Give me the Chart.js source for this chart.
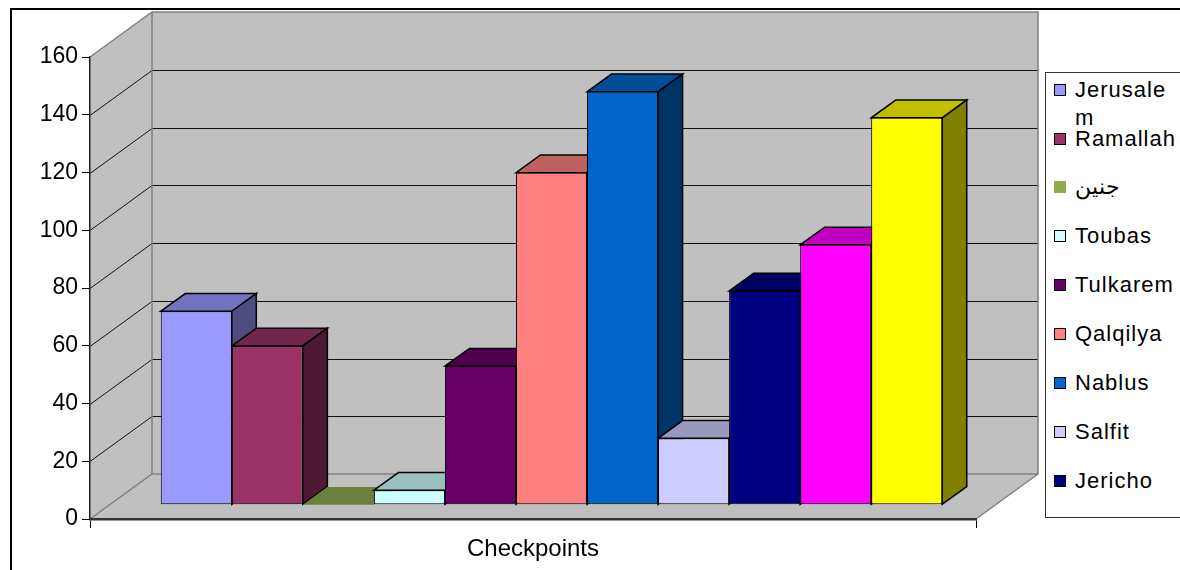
<!DOCTYPE html>
<html>
<head>
<meta charset="utf-8">
<script src="https://cdn.jsdelivr.net/npm/chart.js@4.4.0/dist/chart.umd.min.js"></script>
<style>
  html, body { margin: 0; padding: 0; background: #fff; overflow: hidden; }
  #wrap { position: relative; width: 1180px; height: 570px; overflow: hidden; }
  #frame { position: absolute; left: 10px; top: 8px; width: 1300px; height: 700px; border-top: 2px solid #000; border-left: 2px solid #000; }
  #chart { position: absolute; left: 0; top: 0; }
  #legend { position: absolute; left: 1045px; top: 72px; width: 220px; height: 444px; border: 1px solid #333; background: #fff; overflow: hidden;
            font-family: "Liberation Sans", Arial, sans-serif; font-size: 22px; color: #000; }
  .sw { position: absolute; left: 8px; width: 10px; height: 10px; border: 1px solid #000; }
  .txt { position: absolute; left: 29px; width: 104px; line-height: 28px; word-break: break-all; letter-spacing: 1px; white-space: normal; }
</style>
</head>
<body>
<div id="wrap">
  <div id="frame"></div>
  <canvas id="chart" width="1180" height="570"></canvas>
  <div id="legend"></div>
</div>
<script>
const categories = ["Checkpoints"];
const cities = ["Jerusalem", "Ramallah", "جنين", "Toubas", "Tulkarem", "Qalqilya", "Nablus", "Salfit", "Jericho", "Bethlehem", "Hebron"];
const checkpoints = [67, 55, 0, 5, 48, 115, 143, 23, 74, 90, 134];
const cityColors = ["#9999FF", "#993366", "#8FAB4F", "#CCFFFF", "#660066", "#FF8080", "#0066CC", "#CCCCFF", "#000080", "#FF00FF", "#FFFF00"];
const noOutline = ["جنين"];
const Y_MIN = 0, Y_MAX = 160, Y_STEP = 20;
const yTicks = [0, 20, 40, 60, 80, 100, 120, 140, 160];

// perspective: walls recede up-right, bars sit part way into the floor
const WALL_DX = 62, WALL_DY = 45;
const BAR_SHIFT_X = 18.5, BAR_SHIFT_Y = 14.3;
const BAR_DX = 24.5, BAR_DY = 17.7;

function shade(hex, f) {
  const n = parseInt(hex.slice(1), 16);
  const r = Math.round(((n >> 16) & 255) * f);
  const g = Math.round(((n >> 8) & 255) * f);
  const b = Math.round((n & 255) * f);
  return `rgb(${r},${g},${b})`;
}

function face(ctx, pts, fill, lw) {
  ctx.beginPath();
  pts.forEach(([x, y], i) => (i ? ctx.lineTo(x, y) : ctx.moveTo(x, y)));
  ctx.closePath();
  ctx.fillStyle = fill;
  ctx.fill();
  if (lw) {
    ctx.lineWidth = lw;
    ctx.strokeStyle = "#000";
    ctx.stroke();
  }
}

const box3d = {
  id: "box3d",
  beforeDraw(chart) {
    const { ctx, chartArea: a, scales: { y } } = chart;
    const top = y.getPixelForValue(Y_MAX), bot = y.getPixelForValue(Y_MIN);
    ctx.save();
    ctx.fillStyle = "#c0c0c0";
    // side wall
    ctx.beginPath();
    ctx.moveTo(a.left, top); ctx.lineTo(a.left + WALL_DX, top - WALL_DY);
    ctx.lineTo(a.left + WALL_DX, bot - WALL_DY); ctx.lineTo(a.left, bot);
    ctx.closePath(); ctx.fill();
    // back wall
    ctx.fillRect(a.left + WALL_DX, top - WALL_DY, a.right - a.left, bot - top);
    // floor
    ctx.beginPath();
    ctx.moveTo(a.left, bot); ctx.lineTo(a.left + WALL_DX, bot - WALL_DY);
    ctx.lineTo(a.right + WALL_DX, bot - WALL_DY); ctx.lineTo(a.right, bot);
    ctx.closePath(); ctx.fill();

    // gridlines run along the side wall and across the back wall
    ctx.strokeStyle = "#111";
    ctx.lineWidth = 1;
    yTicks.filter((v) => v > Y_MIN && v < Y_MAX).forEach((v) => {
      const py = Math.round(y.getPixelForValue(v)) + 0.5;
      ctx.beginPath();
      ctx.moveTo(a.left, py);
      ctx.lineTo(a.left + WALL_DX, py - WALL_DY);
      ctx.lineTo(a.right + WALL_DX, py - WALL_DY);
      ctx.stroke();
    });

    // wall and floor edges
    ctx.strokeStyle = "#808080";
    ctx.lineWidth = 1.5;
    ctx.beginPath();
    ctx.moveTo(a.left, top); ctx.lineTo(a.left + WALL_DX, top - WALL_DY);
    ctx.lineTo(a.right + WALL_DX, top - WALL_DY); ctx.lineTo(a.right + WALL_DX, bot - WALL_DY);
    ctx.lineTo(a.left + WALL_DX, bot - WALL_DY); ctx.lineTo(a.left, bot);
    ctx.moveTo(a.left + WALL_DX, top - WALL_DY); ctx.lineTo(a.left + WALL_DX, bot - WALL_DY);
    ctx.moveTo(a.right, bot); ctx.lineTo(a.right + WALL_DX, bot - WALL_DY);
    ctx.stroke();
    ctx.restore();
  },
  beforeDatasetsDraw(chart) {
    const ctx = chart.ctx;
    ctx.save();
    ctx.translate(BAR_SHIFT_X, -BAR_SHIFT_Y);
    // tops and right sides, left to right; the library paints the fronts after
    chart.data.datasets.forEach((ds, i) => {
      const bar = chart.getDatasetMeta(i).data[0];
      const { x, y, base, width } = bar.getProps(["x", "y", "base", "width"], true);
      const L = x - width / 2, R = x + width / 2;
      const lw = noOutline.includes(ds.label) ? 0 : 1.5;
      face(ctx, [[L, y], [R, y], [R + BAR_DX, y - BAR_DY], [L + BAR_DX, y - BAR_DY]], shade(ds.backgroundColor, 0.75), lw);
      if (base - y > 0.5) {
        face(ctx, [[R, y], [R + BAR_DX, y - BAR_DY], [R + BAR_DX, base - BAR_DY], [R, base]], shade(ds.backgroundColor, 0.5), lw);
      }
    });
  },
  afterDatasetsDraw(chart) {
    chart.ctx.restore();
  }
};

Chart.defaults.font.family = "'Liberation Sans', Arial, sans-serif";
Chart.defaults.color = "#000";

new Chart(document.getElementById("chart"), {
  type: "bar",
  data: {
    labels: categories,
    datasets: cities.map((name, i) => ({
      label: name,
      data: [checkpoints[i]],
      backgroundColor: cityColors[i],
      borderColor: "#000",
      borderWidth: noOutline.includes(name) ? 0 : 1,
      borderSkipped: false,
      categoryPercentage: 0.882,
      barPercentage: 1,
      clip: false
    }))
  },
  options: {
    responsive: false,
    animation: false,
    devicePixelRatio: 1,
    layout: { padding: { left: 0, right: 204, top: 57, bottom: 0 } },
    plugins: { legend: { display: false }, tooltip: { enabled: false } },
    scales: {
      x: {
        offset: true,
        afterFit: (s) => { s.height = 51; },
        grid: { offset: true, drawOnChartArea: false, drawTicks: true, tickLength: 9, color: "#000", lineWidth: 1 },
        border: { color: "#333", width: 2.5 },
        ticks: { font: { size: 24 }, color: "#000", padding: 7 }
      },
      y: {
        min: Y_MIN,
        max: Y_MAX,
        afterFit: (s) => { s.width = 90; },
        afterBuildTicks: (s) => { s.ticks = yTicks.map((v) => ({ value: v })); },
        grid: { drawOnChartArea: false, drawTicks: true, tickLength: 8, color: "#000", lineWidth: 1 },
        border: { color: "#222", width: 1.5 },
        ticks: { font: { size: 23 }, color: "#000", padding: 4, stepSize: Y_STEP }
      }
    }
  },
  plugins: [box3d]
});

// series key, clipped by its box like the original panel
const legend = document.getElementById("legend");
cities.forEach((name, i) => {
  const cy = 16.6 + i * 48.9;
  const sw = document.createElement("div");
  sw.className = "sw";
  sw.style.top = (cy - 6) + "px";
  sw.style.background = cityColors[i];
  if (noOutline.includes(name)) sw.style.borderColor = cityColors[i];
  const t = document.createElement("div");
  t.className = "txt";
  t.style.top = (cy - 14) + "px";
  t.textContent = name;
  legend.appendChild(sw);
  legend.appendChild(t);
});
</script>
</body>
</html>
